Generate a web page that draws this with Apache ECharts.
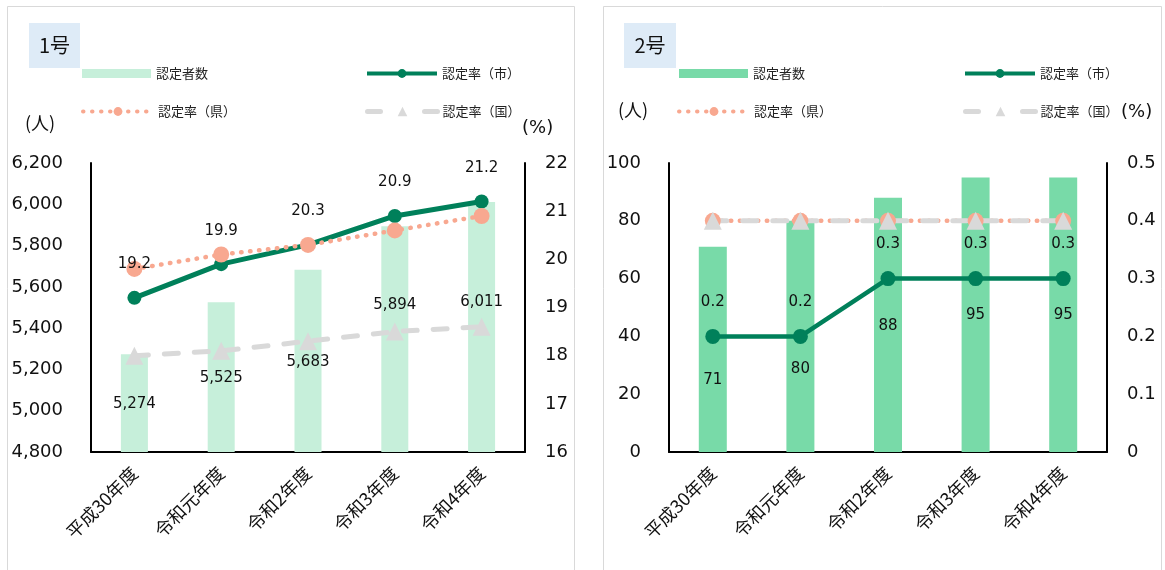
<!DOCTYPE html>
<html><head><meta charset="utf-8">
<script src="https://cdn.jsdelivr.net/npm/echarts@6/dist/echarts.min.js"></script>
<style>
html,body{margin:0;padding:0;background:#fff;width:1165px;height:570px;overflow:hidden}
#c1{position:absolute;left:0;top:0;width:583px;height:570px}
#c2{position:absolute;left:583px;top:0;width:582px;height:570px}
</style></head>
<body><div id="c1"></div><div id="c2"></div>
<script>
// ---- data ----
const categories = ['平成30年度','令和元年度','令和2年度','令和3年度','令和4年度'];
const seriesNames = ['認定者数','認定率（市）','認定率（県）','認定率（国）'];
// 1号
const count1 = [5274, 5525, 5683, 5894, 6011];
const rateCity1 = [19.2, 19.9, 20.3, 20.9, 21.2];
const ratePref1 = [19.8, 20.1, 20.3, 20.6, 20.9];
const rateNation1 = [18.0, 18.1, 18.3, 18.5, 18.6];
// 2号
const count2 = [71, 80, 88, 95, 95];
const rateCity2 = [0.2, 0.2, 0.3, 0.3, 0.3];
const ratePref2 = [0.4, 0.4, 0.4, 0.4, 0.4];
const rateNation2 = [0.4, 0.4, 0.4, 0.4, 0.4];
// axis ranges
const axis1 = {lmin:4800, lmax:6200, lint:200, rmin:16, rmax:22, rint:1};
const axis2 = {lmin:0, lmax:100, lint:20, rmin:0, rmax:0.5, rint:0.1};
// label placement (style): bar label centre below bar top, px
const barLabelDrop1 = [50, 76, 92, 79, 100];
const barLabelDrop2 = [133, 148, 128, 138, 138];

const NUM = "'DejaVu Sans','Noto Sans CJK JP',sans-serif";
const JP = "'Noto Sans CJK JP','DejaVu Sans',sans-serif";
const GREEN = '#00805A', SALMON = '#F8A890', GRAY = '#D9D9D9';

function fmt(v){return v.toLocaleString('en-US');}

function build(cfg){
  const lbl = ()=>({fontFamily:NUM,fontSize:18,color:'#111'});
  const lt = {fontSize:13,color:'#222',fontFamily:JP};
  return {
    animation:false,
    textStyle:{fontFamily:JP},
    graphic:[
      {type:'rect',shape:{x:cfg.panel[0],y:cfg.panel[1],width:cfg.panel[2],height:cfg.panel[3]},style:{fill:'#fff',stroke:'#D9D9D9',lineWidth:1},z:-10},
      {type:'rect',shape:{x:cfg.tbox[0],y:23,width:cfg.tbox[1],height:45},style:{fill:'#DEEBF7'},z:-5},
      {type:'text',x:cfg.tbox[0]+cfg.tbox[1]/2,y:45,style:{text:cfg.title,font:"20px "+JP,fill:'#111',align:'center',verticalAlign:'middle'}},
      {type:'text',x:cfg.ren[0],y:cfg.ren[1],style:{text:'(人)',font:"18px "+JP,fill:'#111',verticalAlign:'middle'}},
      {type:'text',x:cfg.pct[0],y:cfg.pct[1],style:{text:'(%)',font:"18px "+NUM,fill:'#111',verticalAlign:'middle'}}
    ],
    legend:[
      {data:[seriesNames[0]],left:cfg.lg[0],top:62,itemWidth:69,itemHeight:9,icon:'rect',textStyle:lt},
      {data:[seriesNames[1]],left:cfg.lg[1],top:62,itemWidth:70,itemHeight:11,lineStyle:{width:4},textStyle:lt},
      {data:[seriesNames[2]],left:cfg.lg[2],top:100,itemWidth:70,itemHeight:11,lineStyle:{width:4},textStyle:lt},
      {data:[seriesNames[3]],left:cfg.lg[3],top:100,itemWidth:70,itemHeight:12,lineStyle:{width:5,type:[13,44],cap:'round'},textStyle:lt}
    ],
    grid:{left:cfg.gl,right:cfg.gr,top:163,height:289,containLabel:false},
    xAxis:{type:'category',data:categories,
      axisLine:{show:true,lineStyle:{color:'#000',width:2}},axisTick:{show:false},
      axisLabel:{rotate:45,interval:0,fontSize:18,fontFamily:JP,color:'#111',margin:18}},
    yAxis:[
      {type:'value',min:cfg.ax.lmin,max:cfg.ax.lmax,interval:cfg.ax.lint,
       axisLine:{show:true,lineStyle:{color:'#000',width:2}},axisTick:{show:false},splitLine:{show:false},
       axisLabel:Object.assign(lbl(),{margin:28,formatter:(v)=>fmt(v)})},
      {type:'value',position:'right',min:cfg.ax.rmin,max:cfg.ax.rmax,interval:cfg.ax.rint,
       axisLine:{show:true,lineStyle:{color:'#000',width:2}},axisTick:{show:false},splitLine:{show:false},
       axisLabel:Object.assign(lbl(),{margin:20,formatter:(v)=>String(Math.round(v*10)/10)})}
    ],
    series:[
      {name:seriesNames[0],type:'bar',barWidth:cfg.bw,itemStyle:{color:cfg.barColor},
       data:cfg.count.map((v,i)=>({value:v,label:{position:['50%',cfg.drop[i]]}})),
       label:{show:true,align:'center',verticalAlign:'middle',fontFamily:NUM,fontSize:15,color:'#111',formatter:(p)=>fmt(p.value)}},
      {name:seriesNames[1],type:'line',yAxisIndex:1,data:cfg.city,symbol:'circle',symbolSize:cfg.ms,
       itemStyle:{color:GREEN},lineStyle:{color:GREEN,width:cfg.lw},
       label:{show:true,position:'top',distance:19,fontFamily:NUM,fontSize:15,color:'#111',formatter:(p)=>p.value.toFixed(1)}},
      {name:seriesNames[2],type:'line',yAxisIndex:1,data:cfg.pref,symbol:'circle',symbolSize:16,
       itemStyle:{color:SALMON},lineStyle:{color:SALMON,width:4.5,type:[0.5,8.5],cap:'round'}},
      {name:seriesNames[3],type:'line',yAxisIndex:1,data:cfg.nation,symbol:'triangle',symbolSize:18,
       itemStyle:{color:GRAY},lineStyle:{color:GRAY,width:5,type:[14,16],cap:'round'}}
    ]
  };
}

const c1 = echarts.init(document.getElementById('c1'));
c1.setOption(build({title:'1号',panel:[7.5,6.5,567,600],tbox:[29,51],ren:[25,123],pct:[522,128],
  lg:[77,360,76,360],gl:91,gr:58,ax:axis1,bw:27,barColor:'#C6EFDA',count:count1,drop:barLabelDrop1,
  city:rateCity1,pref:ratePref1,nation:rateNation1,ms:14,lw:5}));
const c2 = echarts.init(document.getElementById('c2'));
c2.setOption(build({title:'2号',panel:[20.5,6.5,558,600],tbox:[41,52],ren:[35,110],pct:[538,112],
  lg:[91,375,89,375],gl:86,gr:58,ax:axis2,bw:28,barColor:'#78DAA8',count:count2,drop:barLabelDrop2,
  city:rateCity2,pref:ratePref2,nation:rateNation2,ms:15,lw:4.5}));
</script></body></html>
